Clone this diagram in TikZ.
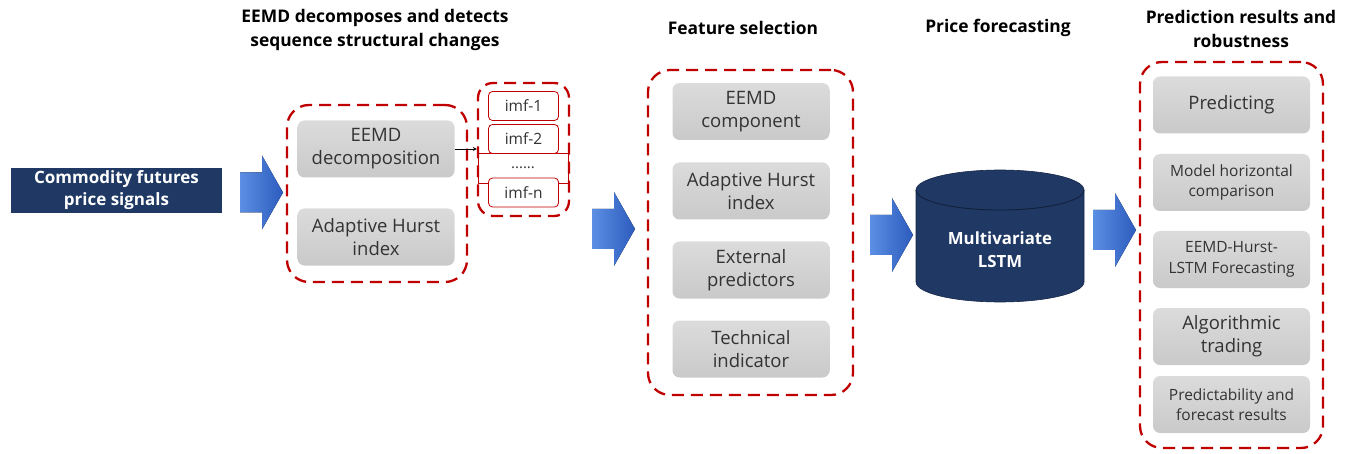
\documentclass[tikz,border=0pt]{standalone}
\usepackage{fontspec}
\setmainfont{Open Sans}
\usetikzlibrary{positioning}
\definecolor{navy}{HTML}{1F3864}
\definecolor{dashred}{HTML}{C00000}
\definecolor{boxtext}{HTML}{333333}
\definecolor{arrlight}{HTML}{5B8FE3}
\definecolor{arrdark}{HTML}{2C5BBE}
\begin{document}
\begin{tikzpicture}[x=1pt,y=1pt,line join=round,>=stealth,
	graybox/.style={rounded corners=7pt,top color=gray!28,bottom color=gray!42,text=boxtext,minimum width=157pt,minimum height=57pt,align=center,inner sep=0pt,font=\fontsize{18.5}{23}\selectfont},
	smallbox/.style={graybox,font=\fontsize{15.5}{20.5}\selectfont},
	imfbox/.style={draw=dashred,line width=0.8pt,fill=white,rounded corners=4pt,minimum width=70pt,minimum height=29pt,inner sep=0pt,text=boxtext,font=\fontsize{15.5}{16}\selectfont},
	group/.style={draw=dashred,line width=2.3pt,dash pattern=on 12pt off 7pt,rounded corners=22pt,inner sep=0pt},
	title/.style={align=center,font=\bfseries\fontsize{17.4}{24}\selectfont},
	blockarrow/.style={left color=arrlight,right color=arrdark}]
		\useasboundingbox (0,0) rectangle (1349,453);
		\node[title] (tdec) at (375,423) {EEMD decomposes and detects\\sequence structural changes};
		\node[title] (tfeat) at (743,425) {Feature selection};
		\node[title] (tprice) at (998,425) {Price forecasting};
		\node[title] (tres) at (1241,424) {Prediction results and\\robustness};
		\node[fill=navy,text=white,minimum width=211pt,minimum height=45pt,align=center,font=\bfseries\fontsize{17}{22}\selectfont] (inp) at (116.5,262.5) {Commodity futures\\price signals};
		\foreach \x/\y in {240/260.5,592/224,870/218,1093/223}
		\fill[blockarrow] (\x,\y+20) -- ++(22,0) -- ++(0,17) -- (\x+43,\y) -- (\x+22,\y-37) -- ++(0,17) -- (\x,\y-20) -- cycle;
		\node[group,minimum width=180pt,minimum height=177pt] (grpdec) at (377,259.5) {};
		\node[graybox] (dec) at (376,304) {EEMD\\decomposition};
		\node[graybox] (hurst) at (376,216) {Adaptive Hurst\\index};
		\node[group,rounded corners=15pt,minimum width=91pt,minimum height=133pt] (imfgrp) at (523.5,303.5) {};
		\node[draw=dashred,line width=0.8pt,minimum width=90pt,minimum height=30pt,inner sep=0pt,text=boxtext,font=\fontsize{15}{16}\selectfont] (imfdots) at (523,285) {......};
		\node[imfbox] (imfa) at (523.5,347) {imf-1};
		\node[imfbox] (imfb) at (523.5,314) {imf-2};
		\node[imfbox] (imfn) at (523.5,260.5) {imf-n};
		\draw[->,line width=0.8pt] (dec.east) -- (dec.east -| imfgrp.west);
		\node[group,minimum width=205pt,minimum height=325pt] (grpfeat) at (750.5,220.5) {};
		\node[graybox] (comp) at (751,341.5) {EEMD\\component};
		\node[graybox] (fhurst) at (751,262) {Adaptive Hurst\\index};
		\node[graybox] (ext) at (751,183) {External\\predictors};
		\node[graybox] (tech) at (751,104) {Technical\\indicator};
		\fill[navy,draw=navy!70!black,line width=0.6pt] (916,263) -- (916,171) arc[start angle=180,end angle=360,x radius=84,y radius=20] -- (1084,263) arc[start angle=0,end angle=180,x radius=84,y radius=20] -- cycle;
		\draw[navy!55!black,line width=0.8pt] (916,263) arc[start angle=180,end angle=360,x radius=84,y radius=20];
		\node[text=white,align=center,font=\bfseries\fontsize{16.8}{23}\selectfont] (lstm) at (1000,203) {Multivariate\\LSTM};
		\node[group,minimum width=183pt,minimum height=386pt] (grpres) at (1231.5,198) {};
		\node[graybox] (pred) at (1231.5,348) {Predicting};
		\node[smallbox] (horiz) at (1231.5,270.5) {Model horizontal\\comparison};
		\node[smallbox] (ehl) at (1231.5,193.5) {EEMD-Hurst-\\LSTM Forecasting};
		\node[graybox] (algo) at (1231.5,116.5) {Algorithmic\\trading};
		\node[smallbox] (predict) at (1231.5,48.5) {Predictability and\\forecast results};
		\end{tikzpicture}
\end{document}
